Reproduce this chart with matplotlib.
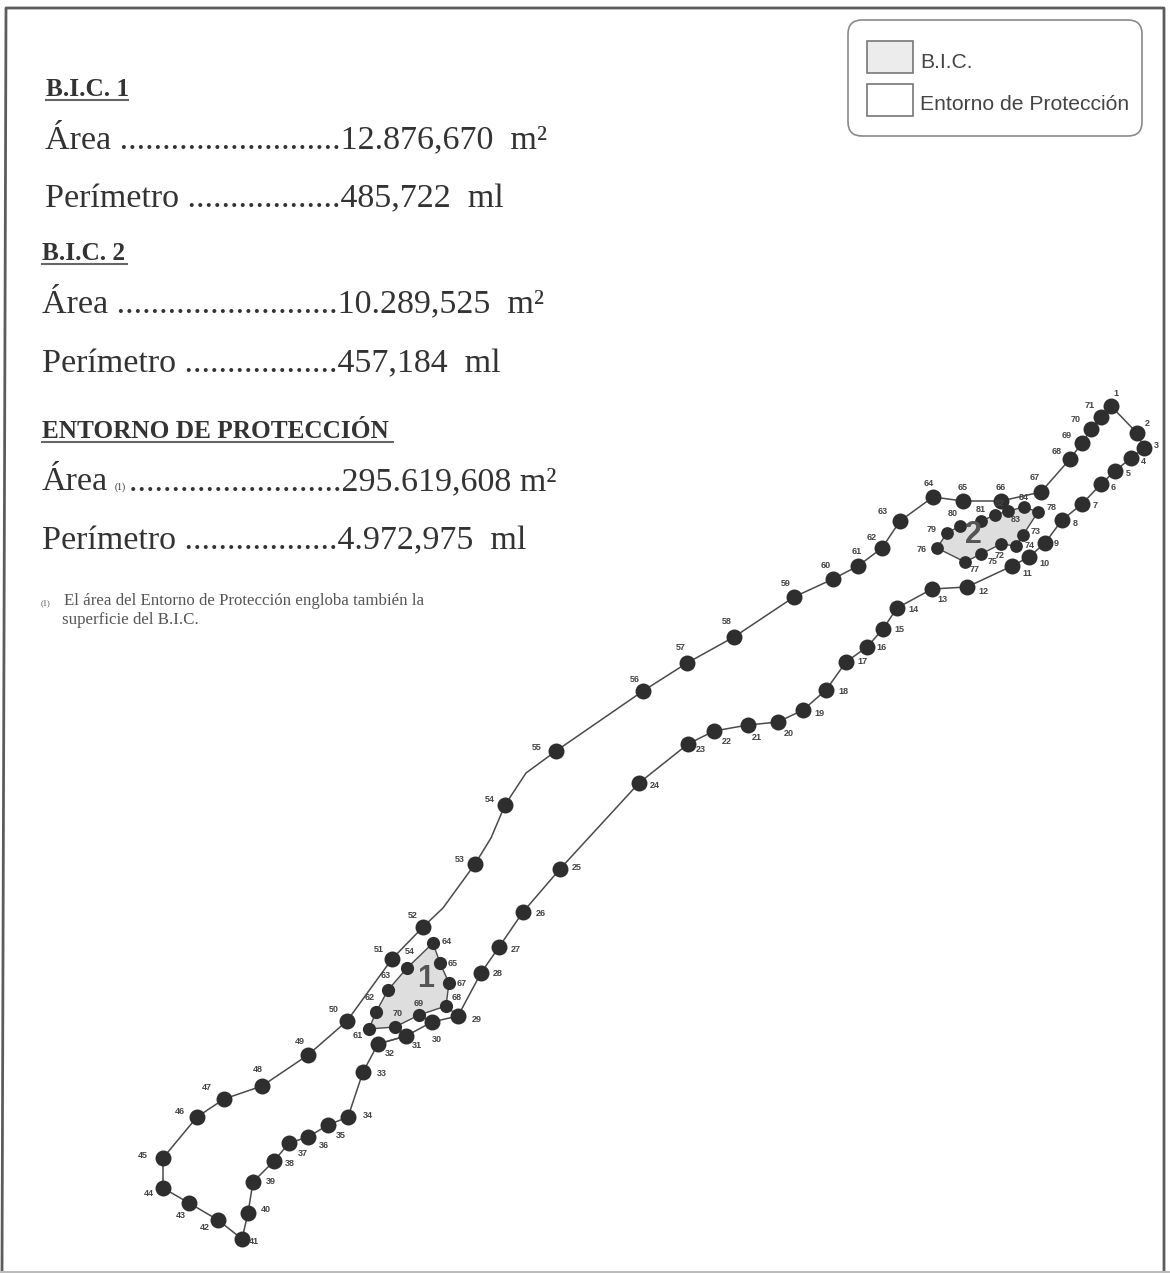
import matplotlib
matplotlib.use('Agg')
import matplotlib.pyplot as plt
from matplotlib.patches import FancyBboxPatch, Polygon, Rectangle

entorno_x = [1111, 1137, 1144, 1131, 1115, 1101, 1082, 1062, 1045, 1029, 1012, 967, 932, 897, 883, 867,
             846, 826, 803, 778, 748, 714, 688, 639, 560, 523, 499, 481, 458, 432, 406, 378, 363, 348,
             328, 308, 289, 274, 253, 248, 242, 218, 189, 163, 163, 197, 224, 262, 308, 347, 392, 423,
             475, 505, 556, 643, 687, 734, 794, 833, 858, 882, 900, 933, 963, 1001, 1041, 1070, 1082, 1091, 1101]
entorno_y = [406, 433, 448, 458, 471, 484, 504, 520, 543, 557, 566, 587, 589, 608, 629, 647,
             662, 690, 710, 722, 725, 731, 744, 783, 869, 912, 947, 973, 1016, 1022, 1036, 1044, 1072, 1117,
             1125, 1137, 1143, 1161, 1182, 1213, 1239, 1220, 1203, 1188, 1158, 1117, 1099, 1086, 1055, 1021, 959, 927,
             864, 805, 751, 691, 663, 637, 597, 579, 566, 548, 521, 497, 501, 501, 492, 459, 443, 429, 417]
entorno_lx = [1116, 1147, 1156, 1143, 1128, 1113, 1095, 1075, 1056, 1044, 1027, 983, 942, 913, 899, 882,
              862, 843, 819, 789, 757, 727, 701, 655, 577, 541, 516, 498, 477, 437, 417, 390, 382, 368,
              341, 324, 303, 290, 271, 266, 254, 205, 181, 149, 143, 180, 207, 258, 300, 334, 379, 413,
              460, 490, 537, 635, 681, 727, 786, 826, 857, 872, 883, 929, 963, 1001, 1035, 1057, 1067, 1076, 1090]
entorno_ly = [393, 423, 446, 462, 474, 488, 505, 523, 543, 563, 573, 591, 600, 610, 630, 648,
              662, 692, 713, 734, 737, 741, 749, 785, 868, 914, 949, 974, 1019, 1039, 1046, 1054, 1074, 1116,
              1135, 1145, 1153, 1164, 1182, 1209, 1242, 1228, 1216, 1193, 1155, 1112, 1088, 1070, 1041, 1009, 949, 915,
              860, 799, 747, 680, 648, 622, 584, 565, 552, 537, 511, 483, 487, 487, 478, 452, 436, 420, 405]

# Vertices del contorno sin punto numerado: (despues del punto n, x, y)
quiebros = [(52, 443, 908), (53, 491, 838), (54, 526, 773)]

# Poligonos B.I.C.
bic1_x = [433, 440, 449, 446, 419, 395, 369, 376, 388, 407]
bic1_y = [943, 963, 983, 1006, 1015, 1027, 1029, 1012, 990, 968]
bic1_lx = [447, 453, 462, 457, 419, 398, 358, 370, 386, 410]
bic1_ly = [942, 963, 983, 998, 1004, 1013, 1035, 998, 975, 951]
bic1_num = [64, 65, 67, 68, 69, 70, 61, 62, 63, 54]

bic2_x = [937, 947, 960, 981, 995, 1008, 1024, 1038, 1023, 1016, 1001, 981, 965]
bic2_y = [548, 533, 526, 521, 515, 511, 507, 512, 535, 546, 544, 554, 562]
bic2_lx = [922, 932, 953, 981, 1000, 1016, 1024, 1052, 1036, 1030, 1000, 993, 975]
bic2_ly = [550, 530, 514, 509, 503, 520, 497, 507, 531, 545, 556, 562, 570]
bic2_num = [76, 79, 80, 81, 82, 83, 84, 78, 73, 74, 72, 75, 77]

# Lineas de union entre el B.I.C. 1 y el contorno
union_x = [[458, 446], [432, 419], [406, 395], [378, 406]]
union_y = [[1016, 1006], [1022, 1015], [1036, 1027], [1044, 1036]]

# Textos
resumen = [
    ('B.I.C. 1', 46, 96, True, 82),
    ('Área ..........................12.876,670  m²', 45, 148, False, 0),
    ('Perímetro ..................485,722  ml', 45, 207, False, 0),
    ('B.I.C. 2', 42, 260, True, 85),
    ('Área ..........................10.289,525  m²', 42, 312, False, 0),
    ('Perímetro ..................457,184  ml', 42, 372, False, 0),
    ('ENTORNO DE PROTECCIÓN', 42, 438, True, 351),
    ('Área', 42, 490, False, 0),
    ('.........................295.619,608 m²', 129, 490, False, 0),
    ('Perímetro ..................4.972,975  ml', 42, 549, False, 0),
]
leyenda = ['B.I.C.', 'Entorno de Protección']

LINEA = '#4a4a4a'
PUNTO = '#2e2e2e'
TEXTO = '#333333'
SERIF = 'Liberation Serif'

fig = plt.figure(figsize=(11.7, 12.73), dpi=100)
ax = fig.add_axes([0, 0, 1, 1])
ax.set_xlim(0, 1170)
ax.set_ylim(1273, 0)
ax.axis('off')

# marco de la hoja, escaneado algo torcido
ax.plot([2, 6, 1164, 1164], [1272, 8, 8, 1273], color='#5c5c5c', lw=2)
ax.plot([2, 1170], [1272, 1272], color='#bbbbbb', lw=1.5)

# B.I.C.
ax.add_patch(Polygon(list(zip(bic1_x, bic1_y)), closed=True, fc='#dedede', ec=LINEA, lw=1))
ax.add_patch(Polygon(list(zip(bic2_x, bic2_y)), closed=True, fc='#dedede', ec=LINEA, lw=1))
for ux, uy in zip(union_x, union_y):
    ax.plot(ux, uy, color=LINEA, lw=1)

# contorno
linea_x = list(entorno_x)
linea_y = list(entorno_y)
for n, qx, qy in reversed(quiebros):
    linea_x.insert(n, qx)
    linea_y.insert(n, qy)
ax.plot(linea_x + linea_x[:1], linea_y + linea_y[:1], color=LINEA, lw=1.1, zorder=2)
ax.plot(entorno_x, entorno_y, 'o', color=PUNTO, ms=11.5, mew=0, zorder=3)
ax.plot(bic1_x, bic1_y, 'o', color=PUNTO, ms=9.5, mew=0, zorder=3)
ax.plot(bic2_x, bic2_y, 'o', color=PUNTO, ms=9.2, mew=0, zorder=3)

for i, (lx, ly) in enumerate(zip(entorno_lx, entorno_ly)):
    ax.text(lx, ly, str(i + 1), fontsize=6.5, fontweight='bold', color='#444444',
            ha='center', va='center', family='Liberation Sans')
for lx, ly, n in zip(bic1_lx + bic2_lx, bic1_ly + bic2_ly, bic1_num + bic2_num):
    ax.text(lx, ly, str(n), fontsize=6.5, fontweight='bold', color='#444444',
            ha='center', va='center', family='Liberation Sans')

ax.text(426, 979, '1', fontsize=22, fontweight='bold', color='#555555', ha='center', va='center',
        family='Liberation Sans', zorder=4)
ax.text(973, 535, '2', fontsize=22, fontweight='bold', color='#555555', ha='center', va='center',
        family='Liberation Sans', zorder=4)

# resumen de superficies
for txt, x, y, negrita, ancho in resumen:
    if negrita:
        ax.text(x, y, txt, fontsize=18.2, fontweight='bold', color=TEXTO, family=SERIF, ha='left', va='baseline')
        ax.plot([x, x + ancho], [y + 3.5, y + 3.5], color='#666666', lw=1.5)
    else:
        ax.text(x, y, txt, fontsize=24.5, color=TEXTO, family=SERIF, ha='left', va='baseline')
ax.text(115, 490, '(1)', fontsize=7, color=TEXTO, family=SERIF, ha='left', va='baseline')

# nota
ax.text(41, 605, '(1)', fontsize=6, color='#555555', family=SERIF, ha='left', va='baseline')
ax.text(64, 605, 'El área del Entorno de Protección engloba también la', fontsize=12.2,
        color='#555555', family=SERIF, ha='left', va='baseline')
ax.text(62, 624, 'superficie del B.I.C.', fontsize=12.2, color='#555555', family=SERIF, ha='left', va='baseline')

# leyenda
ax.add_patch(FancyBboxPatch((848, 20), 294, 116, boxstyle='round,pad=0,rounding_size=14', fill=False,
                            ec='#8a8a8a', lw=1.2))
ax.add_patch(Rectangle((867, 41), 46, 32, fc='#ececec', ec='#777777', lw=1.2))
ax.add_patch(Rectangle((867, 84), 46, 32, fc='white', ec='#777777', lw=1.2))
ax.text(920, 62, leyenda[0], fontsize=15.2, color='#444444', family='Liberation Sans', va='center')
ax.text(920, 104, leyenda[1], fontsize=15.2, color='#444444', family='Liberation Sans', va='center')

fig.savefig('out.png', dpi=100)
